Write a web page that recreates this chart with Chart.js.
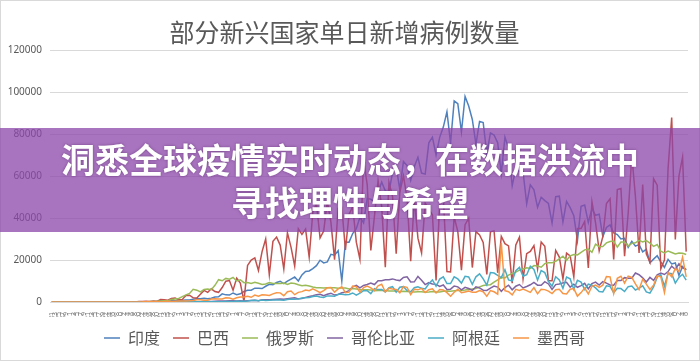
<!doctype html>
<html>
<head>
<meta charset="utf-8">
<script src="https://cdnjs.cloudflare.com/ajax/libs/Chart.js/4.4.0/chart.umd.min.js"></script>
<style>
  body { margin: 0; background: #fff; }
  #wrap { position: relative; width: 698px; height: 359px; border: 1px solid #d9d9d9; }
  #band {
    position: absolute; left: -1px; top: 127px; width: 700px; height: 104px;
    background: rgba(140, 70, 170, 0.75); color: #fff;
    font-family: "Noto Sans CJK SC", sans-serif; font-weight: bold; font-size: 34px; line-height: 43px;
    text-align: center; display: flex; flex-direction: column; justify-content: center;
    text-shadow: 0 0 3px rgba(60, 20, 80, 0.5);
  }
</style>
<script>
// every other day, 2020-02-01 .. 2021-01-16
const dates = [
  '2/1','2/3','2/5','2/7','2/9','2/11','2/13','2/15','2/17','2/19','2/21','2/23','2/25','2/27','2/29',
  '3/2','3/4','3/6','3/8','3/10','3/12','3/14','3/16','3/18','3/20','3/22','3/24','3/26','3/28','3/30',
  '4/1','4/3','4/5','4/7','4/9','4/11','4/13','4/15','4/17','4/19','4/21','4/23','4/25','4/27','4/29',
  '5/1','5/3','5/5','5/7','5/9','5/11','5/13','5/15','5/17','5/19','5/21','5/23','5/25','5/27','5/29','5/31',
  '6/2','6/4','6/6','6/8','6/10','6/12','6/14','6/16','6/18','6/20','6/22','6/24','6/26','6/28','6/30',
  '7/2','7/4','7/6','7/8','7/10','7/12','7/14','7/16','7/18','7/20','7/22','7/24','7/26','7/28','7/30',
  '8/1','8/3','8/5','8/7','8/9','8/11','8/13','8/15','8/17','8/19','8/21','8/23','8/25','8/27','8/29','8/31',
  '9/2','9/4','9/6','9/8','9/10','9/12','9/14','9/16','9/18','9/20','9/22','9/24','9/26','9/28','9/30',
  '10/2','10/4','10/6','10/8','10/10','10/12','10/14','10/16','10/18','10/20','10/22','10/24','10/26','10/28','10/30',
  '11/1','11/3','11/5','11/7','11/9','11/11','11/13','11/15','11/17','11/19','11/21','11/23','11/25','11/27','11/29',
  '12/1','12/3','12/5','12/7','12/9','12/11','12/13','12/15','12/17','12/19','12/21','12/23','12/25','12/27','12/29','12/31',
  '1/2','1/4','1/6','1/8','1/10','1/12','1/14','1/16'
];

const india = [
  0,0,0,0,0,0,0,0,0,0,0,0,0,0,0,
  0,22,2,5,15,10,20,24,24,50,80,100,90,150,230,
  600,500,500,550,600,900,800,1000,1000,1300,1500,1600,1800,1500,1800,
  2400,2500,3900,3400,3300,4300,3500,3900,5000,5600,5600,6600,6500,6400,7500,8400,
  8200,9300,9900,8800,9900,10900,11900,10000,12900,14500,14800,15900,17300,19900,18600,
  19100,22700,22300,24500,10000,28600,28500,32600,34900,40400,37700,49300,48900,47700,52100,
  57100,52900,52500,61500,64400,53600,66900,65000,57900,64500,68900,61400,60900,75800,78500,69900,
  78400,83300,90600,75800,95700,94400,81000,97900,93300,86900,75100,86000,85400,70600,80500,
  79500,75800,61300,78500,73300,55300,63500,62200,61900,46800,55800,53400,45100,49900,48300,
  46900,37600,50200,50400,38100,47900,44900,41100,29200,45600,46200,37900,44400,41300,41800,
  31100,35500,36700,32900,32100,30000,30300,26000,28900,26600,27300,23900,25100,18700,20400,22000,
  19100,16500,20300,18100,18600,12600,16900,15200
];
const brazil = [
  0,0,0,0,0,0,0,0,0,0,0,0,0,1,1,
  0,1,5,6,9,25,23,79,57,193,283,346,232,502,323,
  1138,1074,852,1661,1930,1089,1238,3058,3257,1996,1927,3735,5514,4613,6276,
  5000,4600,6900,9900,10200,5600,11400,9000,300,17400,20000,21000,15000,24000,30000,13000,
  28900,30900,27100,15700,32900,26000,17100,34900,32200,34700,21400,42700,46900,30500,33800,
  48100,37900,20200,44600,45000,24800,41800,45400,28500,20300,67800,55900,24600,40800,57800,
  45400,16600,57100,50200,23000,52200,60100,49300,19400,49300,30400,23400,47100,44200,41400,10200,
  46900,50200,14500,14300,40500,33500,15200,36800,39800,16400,33500,31900,28400,13100,33400,
  33800,13900,31200,27800,26700,9000,27200,30900,11000,23000,24100,26900,15700,28600,26500,
  10100,10100,24600,21400,10900,23300,22000,12000,35000,35000,38400,16200,47800,37700,24400,
  31100,46900,49100,20300,53500,54000,21800,42400,69800,50100,23400,55900,22900,18900,58700,55600,
  15800,20000,63500,87800,29800,60000,69000,24000
];
const russia = [
  0,0,0,0,0,0,0,0,0,0,0,0,0,0,0,
  0,0,0,0,3,6,14,20,33,53,71,57,182,228,302,
  440,601,582,1154,1459,1667,2558,3388,4070,6060,5642,4774,5966,6198,5841,
  7933,10633,10102,11231,10817,11656,10028,10598,9200,9263,8849,9434,8946,8338,8572,9268,
  8863,8831,8855,8985,8404,8987,8835,8248,7790,7972,7600,7176,6800,6791,6693,
  6760,6736,6736,6562,6635,6615,6248,6428,6170,5940,5862,5811,5765,5395,5482,
  5462,5427,5204,5241,5189,4945,5065,4969,4839,4790,4870,4852,4676,4711,4980,4729,
  4758,5110,5205,5099,5363,5449,5509,5670,5905,6196,6431,7212,7867,8135,8232,
  9412,10499,11615,11493,12846,13634,14231,15150,15700,16319,15971,17340,17140,16550,18283,
  18665,18648,19404,20498,21798,19851,21983,22572,22410,23610,24822,25173,23675,27543,26338,
  26402,28145,28782,29039,26097,28585,28585,26689,27921,28209,29350,28552,29258,28002,26513,27397,
  24150,23351,24246,23541,22851,23315,23218,22597
];
const colombia = [
  0,0,0,0,0,0,0,0,0,0,0,0,0,0,0,
  0,0,0,0,1,6,12,20,28,57,61,96,81,94,96,
  76,70,94,270,74,100,212,148,160,250,145,167,271,225,250,
  345,454,492,425,595,640,472,640,523,615,700,785,650,1030,1040,1030,
  1230,1360,1480,1350,1600,1800,2000,1500,1700,2200,2600,3000,3500,3700,3000,
  3700,4200,3300,3600,4400,4700,5400,7200,7900,6700,7900,8300,9000,8300,10100,
  10100,10600,10600,11000,10500,10200,11700,12000,9500,9600,12200,10400,8300,9200,8600,8400,
  7400,8100,6000,6100,7600,7200,5800,7000,6400,5500,7200,6700,5600,5500,6600,
  7600,7100,5100,6900,8000,5800,7500,8300,6700,7400,8200,9300,8000,8000,9700,
  8600,6000,8300,8600,9100,9400,7100,8500,7000,7800,8900,6200,8800,9500,8100,
  9700,9000,8100,8000,10200,10200,11600,11300,11300,13800,13000,11500,9500,11700,10300,12900,
  13800,13100,14500,17100,15500,18200,16300,15500
];
const argentina = [
  0,0,0,0,0,0,0,0,0,0,0,0,0,0,0,
  0,0,0,0,5,10,10,15,20,30,40,60,90,80,70,
  120,100,90,120,100,150,70,120,100,120,100,140,100,120,160,
  150,160,170,260,240,200,300,350,330,480,700,800,550,900,750,800,
  900,930,1000,800,1200,1400,1300,1400,1900,2000,2100,2600,2900,2400,2200,
  2900,2800,2700,3700,3700,3400,3600,4300,3300,4200,5400,5400,4000,6400,5900,
  6000,4800,6800,7300,4700,7000,7300,5400,4900,6800,7200,6500,6200,8700,10500,7500,
  10900,12000,8800,8800,12000,11000,9000,12200,11900,8400,12000,13400,11000,8000,14000,
  13800,12700,11600,15400,10500,10100,14900,16500,12300,13000,17000,15500,10500,15000,14000,
  9800,7500,12000,10500,6500,11900,11000,6000,10300,9500,6000,8500,8000,6700,5000,
  4800,7700,7400,4400,6500,6400,5000,7300,7600,5700,6600,7700,4800,4200,7200,11800,
  13000,7500,13800,13500,9000,11700,13200,10400
];
const mexico = [
  0,0,0,0,0,0,0,0,0,0,0,0,0,0,0,
  0,0,0,0,0,4,8,29,25,46,65,138,110,131,117,
  178,206,308,296,396,465,442,450,578,763,1043,1038,835,848,1425,
  1515,1383,1434,1982,1906,1305,1997,2409,2414,2713,2248,3329,2764,3463,3377,3152,
  3891,4442,4346,2999,4883,5222,3494,4599,4930,5662,5343,6288,5441,4410,5432,
  6741,6914,4683,6258,7280,4482,4685,7615,7257,4685,6859,7573,6751,5434,7730,
  8458,4767,6590,6139,6010,4376,7371,7000,3571,6075,5792,6482,4482,5824,6297,4281,
  5937,5741,4457,2774,4669,6107,4408,4771,5174,4683,4683,5408,4902,2707,5447,
  4879,3712,28115,5379,4875,3419,6026,5514,6166,5447,4577,6859,3917,6025,5897,
  5174,4014,5840,6101,4074,3867,6100,6388,2800,4472,6608,3830,7484,8093,7000,
  8020,12081,11974,4000,11300,12253,9000,12300,11700,8600,5900,10800,8500,5996,8000,12400,
  12000,4500,14000,12000,16000,14600,21366,12000
];

const seriesNames = ['印度', '巴西', '俄罗斯', '哥伦比亚', '阿根廷', '墨西哥'];
const seriesColors = ['#4F81BD', '#C0504D', '#9BBB59', '#8064A2', '#4BACC6', '#F79646'];
const yTicks = [0, 20000, 40000, 60000, 80000, 100000, 120000];
const titleText = '部分新兴国家单日新增病例数量';

function startPage() {
  Chart.defaults.font.family = '"Noto Sans", "Noto Sans CJK SC", sans-serif';
  const values = [india, brazil, russia, colombia, argentina, mexico];
  const datasets = values.map((v, i) => ({
    label: seriesNames[i],
    data: v,
    borderColor: seriesColors[i],
    backgroundColor: seriesColors[i],
    borderWidth: 1.5,
    pointRadius: 0,
    tension: 0,
    order: values.length - 1 - i   // later series on top, as in the original
  }));

  new Chart(document.getElementById('c1'), {
    type: 'line',
    data: { labels: dates, datasets: datasets },
    options: {
      responsive: false,
      animation: false,
      layout: { padding: { left: 0, right: 11, top: 0, bottom: 4 } },
      plugins: {
        title: {
          display: true, text: titleText, color: '#595959',
          font: { family: '"Noto Sans CJK SC"', size: 25, weight: 'normal' },
          padding: { top: 16, bottom: 3 }
        },
        legend: {
          position: 'bottom',
          labels: {
            usePointStyle: true, pointStyle: 'line', pointStyleWidth: 16,
            color: '#595959', padding: 13,
            font: { family: '"Noto Sans CJK SC"', size: 16 },
            sort: (a, b) => a.datasetIndex - b.datasetIndex
          }
        },
        tooltip: { enabled: false }
      },
      scales: {
        x: {
          offset: true,
          grid: { display: false },
          border: { color: '#d9d9d9' },
          afterFit: axis => { axis.height = 15; },
          ticks: { autoSkip: false, minRotation: 90, maxRotation: 90, color: '#7f7f7f', font: { size: 7 }, padding: 2 }
        },
        y: {
          min: 0, max: 120000,
          afterBuildTicks: axis => { axis.ticks = yTicks.map(v => ({ value: v })); },
          afterFit: axis => { axis.width = 49; },
          grid: { color: '#d9d9d9', drawTicks: false },
          border: { display: false },
          ticks: { color: '#595959', font: { size: 10 }, padding: 8, callback: v => String(v) }
        }
      }
    }
  });
}
</script>
</head>
<body onload="startPage()">
  <div id="wrap">
    <canvas id="c1" width="698" height="359"></canvas>
    <div id="band">
      <div>洞悉全球疫情实时动态，在数据洪流中</div>
      <div>寻找理性与希望</div>
    </div>
  </div>
</body>
</html>
